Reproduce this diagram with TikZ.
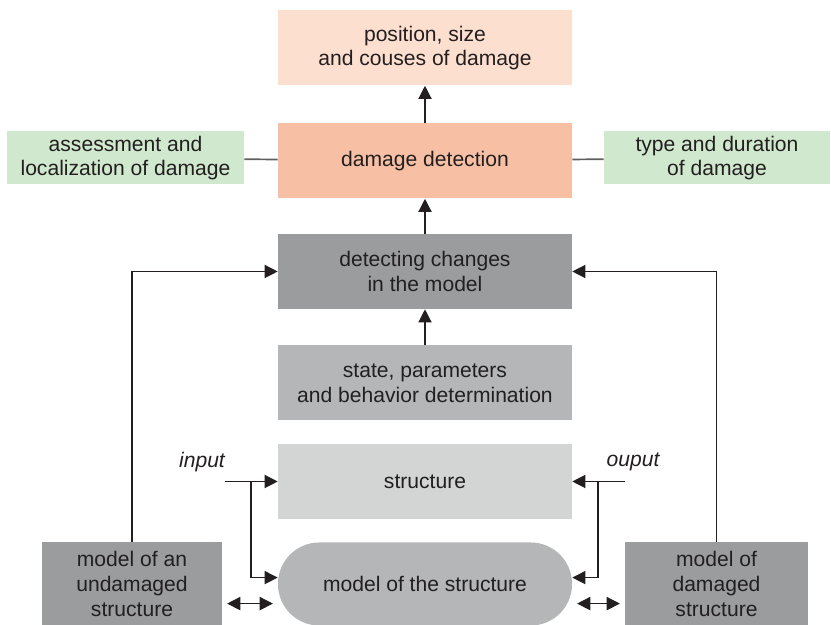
\documentclass[tikz,border=0pt]{standalone}
\usepackage{fontspec}
\setmainfont{Liberation Sans}
\usetikzlibrary{arrows.meta,positioning}

\definecolor{ink}{HTML}{231F20}
\definecolor{peachlight}{HTML}{FCDFCE}
\definecolor{salmon}{HTML}{F7C0A5}
\definecolor{mint}{HTML}{D0E9CE}
\definecolor{graydark}{HTML}{9A9C9D}
\definecolor{graymid}{HTML}{B4B6B7}
\definecolor{graylight}{HTML}{D3D4D4}
\definecolor{linkgray}{HTML}{5F5F5F}

\begin{document}
\begin{tikzpicture}[
    x=0.25mm, y=-0.25mm,
    every node/.style={text=ink, font=\fontsize{15}{17.5}\selectfont},
    % Stili dei nodi
    mainbox/.style={
        rectangle, fill=#1, inner sep=0pt,
        minimum width=73.5mm, minimum height=18.75mm,
        align=center
    },
    sidebox/.style={
        rectangle, fill=mint, inner sep=0pt,
        minimum height=13.25mm, align=center
    },
    modelbox/.style={
        rectangle, fill=graydark, inner sep=0pt,
        minimum height=20.75mm, align=center
    },
    stadium/.style={
        rectangle, rounded corners=10.3mm, fill=graymid, inner sep=0pt,
        minimum width=73.5mm, minimum height=20.75mm
    },
    label/.style={font=\fontsize{15}{17.5}\selectfont\itshape},
    arrow/.style={-{Triangle[length=3.3mm,width=3.3mm]}, line width=0.9pt, draw=ink},
    biarrow/.style={{Triangle[length=3.3mm,width=3.3mm]}-{Triangle[length=3.3mm,width=3.3mm]},
        line width=0.9pt, draw=ink, shorten <=1.2mm, shorten >=1.2mm},
    link/.style={line width=1.2pt, draw=linkgray}
]

\useasboundingbox (0,0) rectangle (831,625);

% Risultati
\node[mainbox=peachlight] (causes) at (425,48) {position, size\\and couses of damage};
\node[mainbox=salmon] (detection) at (425,161) {damage detection};

% Valutazione
\node[sidebox, minimum width=59.25mm] (assess) at (125.5,158) {assessment and\\localization of damage};
\node[sidebox, minimum width=56.5mm] (typedur) at (717,158) {type and duration\\of damage};

% Catena di identificazione
\node[mainbox=graydark] (changes) at (425,271.5) {detecting changes\\in the model};
\node[mainbox=graymid] (params) at (425,383) {state, parameters\\and behavior determination};
\node[mainbox=graylight] (structure) at (425,481.5) {structure};
\node[stadium] (model) at (425,584) {model of the structure};

% Modelli di riferimento
\node[modelbox, minimum width=45mm] (undamaged) at (132,584) {model of an\\undamaged\\structure};
\node[modelbox, minimum width=45.75mm] (damaged) at (716.5,584) {model of\\damaged\\structure};

% Ingresso e uscita
\node[label] (inlabel) at (202,462) {input};
\node[label] (outlabel) at (633,462) {ouput};
\coordinate (instart) at (225,481.5);
\coordinate (inbranch) at (251,481.5);
\coordinate (outstart) at (625,481.5);
\coordinate (outbranch) at (598,481.5);

% Connessioni
\draw[arrow] (detection) -- (causes);
\draw[arrow] (changes) -- (detection);
\draw[arrow] (params) -- (changes);
\draw[link] (assess) -- (detection);
\draw[link] (typedur) -- (detection);

\draw[arrow] (undamaged.north) |- (changes.west);
\draw[arrow] (damaged.north) |- (changes.east);

\draw[arrow] (instart) -- (structure.west);
\draw[arrow] (inbranch) |- ([yshift=1.6mm]model.west);
\draw[arrow] (outstart) -- (structure.east);
\draw[arrow] (outbranch) |- ([yshift=1.6mm]model.east);

\draw[biarrow] ([yshift=-4.9mm]undamaged.east) -- ([yshift=-4.9mm]model.west);
\draw[biarrow] ([yshift=-4.9mm]damaged.west) -- ([yshift=-4.9mm]model.east);

\end{tikzpicture}
\end{document}
